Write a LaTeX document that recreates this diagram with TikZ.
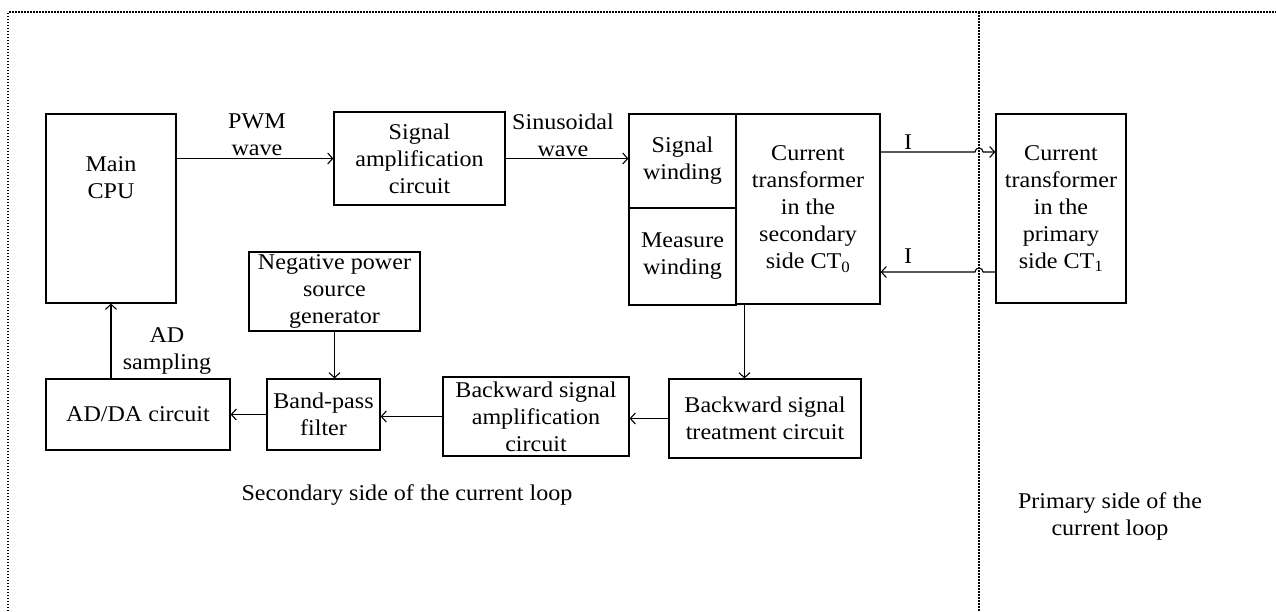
\documentclass[tikz,border=0pt]{standalone}
\usepackage{fontspec}
\setmainfont{Liberation Serif}[FakeStretch=1.07]
\usetikzlibrary{arrows.meta,calc}
\begin{document}
\begin{tikzpicture}[x=1pt,y=-1pt,
  font=\fontsize{22.5}{27}\selectfont,
  box/.style={draw, line width=1.2pt, align=center, inner sep=0pt},
  lbl/.style={align=center, inner sep=0pt},
  arr/.style={-{Straight Barb[length=5pt,width=11pt]}, line width=1.1pt},
  dotline/.style={line width=1.3pt, dash pattern=on 1.5pt off 1.5pt}]
\useasboundingbox (0,0) rectangle (1276,611);
% borders
\draw[dotline] (8,611) -- (8,12) -- (1276,12);
\draw[dotline] (979,12) -- (979,611);
% boxes
\node[box, minimum width=130, minimum height=189] (cpu) at (111,208.5) {};
\node[lbl] (cputext) at (111,178) {Main\\CPU};
\node[box, minimum width=171, minimum height=93] (amp) at (419.5,158.5) {Signal\\amplification\\circuit};
\node[box, minimum width=107, minimum height=94] (sw) at (682.5,161) {Signal\\winding};
\node[box, minimum width=107, minimum height=97] (mw) at (682.5,256.5) {Measure\\winding};
\node[box, minimum width=144, minimum height=190] (ct0) at (808,209) {Current\\transformer\\in the\\secondary\\side CT\textsubscript{0}};
\node[box, minimum width=130, minimum height=189] (ct1) at (1061,208.5) {Current\\transformer\\in the\\primary\\side CT\textsubscript{1}};
\node[box, minimum width=171, minimum height=79] (neg) at (334.5,291.5) {Negative power\\source\\generator};
\node[box, minimum width=184, minimum height=71] (adda) at (138,414.5) {AD/DA circuit};
\node[box, minimum width=113, minimum height=71] (bpf) at (323.5,414.5) {Band-pass\\filter};
\node[box, minimum width=186, minimum height=79] (ba) at (536,416.5) {Backward signal\\amplification\\circuit};
\node[box, minimum width=192, minimum height=79] (bt) at (765,418.5) {Backward signal\\treatment circuit};
% connectors
\draw[arr] (cpu.east |- amp.west) -- (amp.west);
\draw[arr] (amp.east) -- (amp.east -| sw.west);
\coordinate (ctdown) at ($(ct0.south west)+(9,0)$);
\draw[arr] (ctdown) -- (ctdown |- bt.north);
\draw[arr] (bt.west) -- (bt.west -| ba.east);
\draw[arr] (ba.west) -- (ba.west -| bpf.east);
\draw[arr] (neg.south) -- (neg.south |- bpf.north);
\draw[arr] (bpf.west) -- (bpf.west -| adda.east);
\draw[arr] (cpu.south |- adda.north) -- (cpu.south);
\coordinate (hopA) at (975,152);
\coordinate (hopB) at (983,272);
\draw[arr] (ct0.east |- hopA) -- (hopA) arc[start angle=180,end angle=360,radius=4] -- (ct1.west |- hopA);
\draw[arr] (ct1.west |- hopB) -- (hopB) arc[start angle=0,end angle=-180,radius=4] -- (ct0.east |- hopB);
% labels
\node[lbl] (pwm) at (257,135) {PWM\\wave};
\node[lbl] (sin) at (563,135) {Sinusoidal\\wave};
\node[lbl] (ad) at (167,351) {AD\\sampling};
\node[lbl] (i1) at (908,142) {I};
\node[lbl] (i2) at (908,256) {I};
\node[lbl] (sec) at (407,495) {Secondary side of the current loop};
\node[lbl] (pri) at (1110,516) {Primary side of the\\current loop};
\end{tikzpicture}
\end{document}
